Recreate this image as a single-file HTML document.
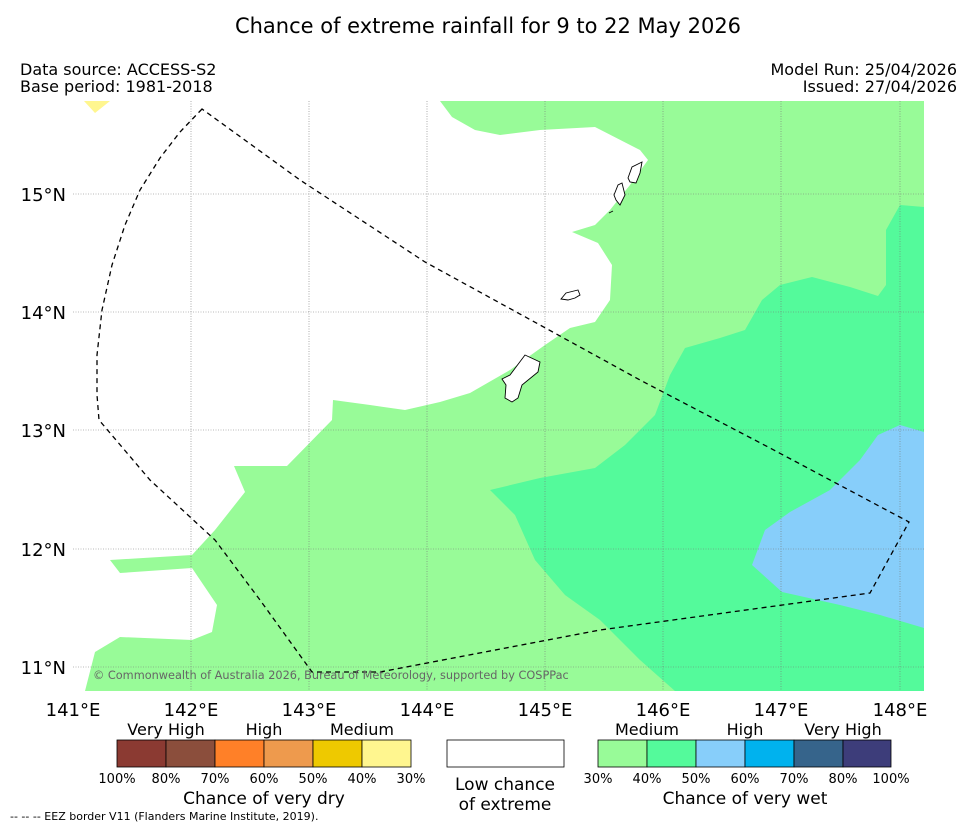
<!DOCTYPE html>
<html><head><meta charset="utf-8"><style>
body{margin:0;background:#fff;}
svg{display:block;font-family:"DejaVu Sans","Liberation Sans",sans-serif;}
</style></head><body>
<svg width="977" height="827" viewBox="0 0 977 827" xmlns="http://www.w3.org/2000/svg">
<text x="488" y="33" text-anchor="middle" font-size="21">Chance of extreme rainfall for 9 to 22 May 2026</text>
<text x="20" y="75" font-size="16">Data source: ACCESS-S2</text>
<text x="20" y="92" font-size="16">Base period: 1981-2018</text>
<text x="957" y="75" font-size="16" text-anchor="end">Model Run: 25/04/2026</text>
<text x="957" y="92" font-size="16" text-anchor="end">Issued: 27/04/2026</text>
<defs><clipPath id="mc"><rect x="73" y="101" width="851" height="590"/></clipPath></defs>
<g clip-path="url(#mc)">
<rect x="73" y="101" width="851" height="590" fill="#98FB98"/>
<path fill="#fff" d="M73,101 L440,101 452,117 475,130 500,135 540,130 595,127 640,150 648,160 630,185 610,210 595,225 572,232 598,243 612,265 610,300 595,322 570,328 545,345 510,370 470,393 440,402 405,410 370,405 333,400 332,420 287,466 234,466 245,492 215,530 192,555 110,560 120,573 192,568 217,605 212,632 192,640 120,637 95,652 85,691 73,691Z"/>
<path fill="#FFF68F" d="M84,101 L110,101 95,113Z"/>
<path fill="#54FA9B" d="M924,207 L900,205 886,230 886,285 878,296 850,287 812,277 780,285 762,300 745,330 720,338 685,348 670,375 655,415 625,445 595,468 540,478 490,490 515,515 535,560 565,595 600,620 640,660 675,691 924,691Z"/>
<path fill="#87CEFA" d="M924,432 L900,425 878,435 860,460 830,490 790,512 765,530 752,565 782,592 840,605 880,615 924,628Z"/>
<g stroke="#777" stroke-width="0.6" stroke-dasharray="1,1.5">
<line x1="191" y1="101" x2="191" y2="691"/><line x1="309" y1="101" x2="309" y2="691"/><line x1="427" y1="101" x2="427" y2="691"/><line x1="545" y1="101" x2="545" y2="691"/><line x1="663" y1="101" x2="663" y2="691"/><line x1="781" y1="101" x2="781" y2="691"/><line x1="900" y1="101" x2="900" y2="691"/>
<line x1="73" y1="194" x2="924" y2="194"/><line x1="73" y1="312" x2="924" y2="312"/><line x1="73" y1="430" x2="924" y2="430"/><line x1="73" y1="549" x2="924" y2="549"/><line x1="73" y1="667" x2="924" y2="667"/>
</g>
<g fill="#fff" stroke="#000" stroke-width="0.9">
<path d="M502,379 L510,375 525,355 540,362 538,372 522,385 518,398 512,402 505,398 506,385Z"/>
<path d="M561,299 L566,293 578,290 580,295 575,298 568,300Z"/>
<path d="M614,195 L618,185 622,183 625,195 620,205 616,200Z"/>
<path d="M628,178 L632,167 642,162 640,173 636,183 630,182Z"/>
<path d="M609,213 L613,211"/>
</g>
<path fill="none" stroke="#000" stroke-width="1.3" stroke-dasharray="5,4" d="M202,109 L180,132 160,158 140,190 125,225 112,265 102,310 97,355 97,395 99,420 150,480 215,540 260,600 312,672 380,672 600,630 870,593 909,522 770,448 640,380 540,325 425,262 300,180 202,109Z"/>
<text x="93" y="679" font-size="11.3" fill="#666">© Commonwealth of Australia 2026, Bureau of Meteorology, supported by COSPPac</text>
</g>
<g font-size="18">
<text x="66" y="201" text-anchor="end">15°N</text><text x="66" y="319" text-anchor="end">14°N</text><text x="66" y="437" text-anchor="end">13°N</text><text x="66" y="556" text-anchor="end">12°N</text><text x="66" y="674" text-anchor="end">11°N</text>
</g>
<g font-size="18" text-anchor="middle">
<text x="73" y="716">141°E</text><text x="191" y="716">142°E</text><text x="309" y="716">143°E</text><text x="427" y="716">144°E</text><text x="545" y="716">145°E</text><text x="663" y="716">146°E</text><text x="781" y="716">147°E</text><text x="900" y="716">148°E</text>
</g>
<g stroke="#000" stroke-width="0.8">
<rect x="117" y="740" width="49" height="27" fill="#8B3A32"/><rect x="166" y="740" width="49" height="27" fill="#8B4E3C"/><rect x="215" y="740" width="49" height="27" fill="#FF8028"/><rect x="264" y="740" width="49" height="27" fill="#EE9A4D"/><rect x="313" y="740" width="49" height="27" fill="#EEC900"/><rect x="362" y="740" width="49" height="27" fill="#FFF68F"/>
</g>
<g font-size="16" text-anchor="middle">
<text x="166" y="735">Very High</text><text x="264" y="735">High</text><text x="362" y="735">Medium</text>
<text x="264" y="804" font-size="17">Chance of very dry</text>
</g>
<g font-size="13" text-anchor="middle">
<text x="117" y="783">100%</text><text x="166" y="783">80%</text><text x="215" y="783">70%</text><text x="264" y="783">60%</text><text x="313" y="783">50%</text><text x="362" y="783">40%</text><text x="411" y="783">30%</text>
</g>
<rect x="447" y="740" width="117" height="27" fill="#fff" stroke="#000" stroke-width="0.8"/>
<text x="505" y="790" font-size="17" text-anchor="middle">Low chance</text>
<text x="505" y="810" font-size="17" text-anchor="middle">of extreme</text>
<g stroke="#000" stroke-width="0.8">
<rect x="598" y="740" width="49" height="27" fill="#98FB98"/><rect x="647" y="740" width="49" height="27" fill="#54FA9B"/><rect x="696" y="740" width="49" height="27" fill="#87CEFA"/><rect x="745" y="740" width="49" height="27" fill="#00B2EE"/><rect x="794" y="740" width="49" height="27" fill="#36648B"/><rect x="843" y="740" width="48" height="27" fill="#3D3D7A"/>
</g>
<g font-size="16" text-anchor="middle">
<text x="647" y="735">Medium</text><text x="745" y="735">High</text><text x="843" y="735">Very High</text>
<text x="745" y="804" font-size="17">Chance of very wet</text>
</g>
<g font-size="13" text-anchor="middle">
<text x="598" y="783">30%</text><text x="647" y="783">40%</text><text x="696" y="783">50%</text><text x="745" y="783">60%</text><text x="794" y="783">70%</text><text x="843" y="783">80%</text><text x="891" y="783">100%</text>
</g>
<text x="10" y="820" font-size="11">--  --  -- EEZ border V11 (Flanders Marine Institute, 2019).</text>
</svg>
</body></html>
